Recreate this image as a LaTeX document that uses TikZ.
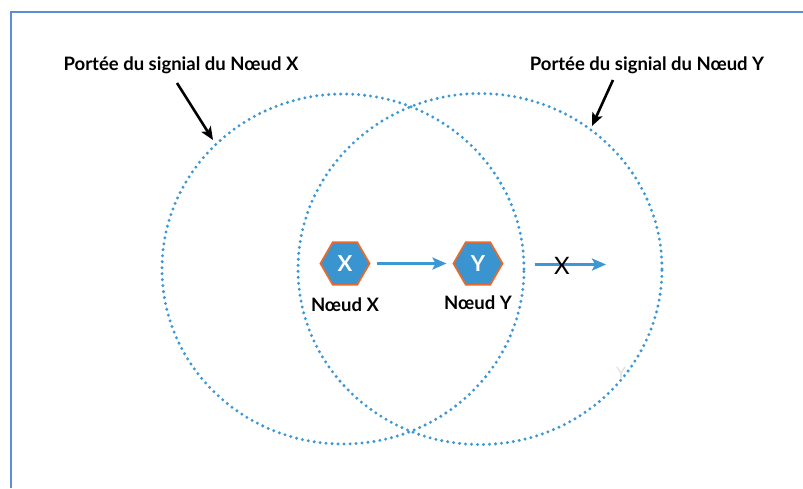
\documentclass[tikz,border=0pt]{standalone}
\usepackage{fontspec}
\setmainfont{Lato}
\usetikzlibrary{shapes.geometric,arrows.meta}
\definecolor{rangeblue}{HTML}{3D97D3}
\definecolor{hexblue}{HTML}{3A94D0}
\definecolor{hexedge}{HTML}{E86A2C}
\definecolor{frameblue}{HTML}{5B8ED4}
\tikzset{
  sigrange/.style={rangeblue, line width=3.3pt, line cap=round, dash pattern=on 0pt off 6pt},
  hexnode/.style={regular polygon, regular polygon sides=6, minimum size=49pt, inner sep=0pt,
    fill=hexblue, draw=hexedge, line width=1.8pt, text=white, font=\fontseries{b}\selectfont\fontsize{22}{22}\selectfont},
  nodelabel/.style={font=\bfseries\fontsize{18.5}{19}\selectfont, text=black},
  rangelabel/.style={font=\bfseries\fontsize{18.5}{19}\selectfont, text=black},
  sigarrow/.style={rangeblue, line width=3pt, -{Stealth[length=14pt,width=12pt,inset=3pt]}},
  ptrarrow/.style={black, line width=2.6pt, -{Stealth[length=13pt,width=11pt,inset=3pt]}}
}
\begin{document}
\begin{tikzpicture}[x=1pt,y=-1pt]
  \useasboundingbox (0,0) rectangle (803,488);
  % frame lines
  \draw[frameblue, line width=1.6pt] (11,12) -- (803,12);
  \draw[frameblue, line width=2.2pt] (11,11.2) -- (11,488);

  % signal ranges
  \draw[sigrange] (343,269) ellipse [x radius=181pt, y radius=175pt];
  \draw[sigrange] (480,269) ellipse [x radius=182pt, y radius=175.5pt];

  % nodes
  \node[hexnode] (nx) at (345,263.5) {X};
  \node[hexnode] (ny) at (478,263.5) {Y};
  \node[nodelabel] (lx) at (345,305) {Nœud X};
  \node[nodelabel] (ly) at (478,303) {Nœud Y};

  % transmissions
  \coordinate (out) at (606,264.5);
  \draw[sigarrow, shorten <=6pt, shorten >=6pt] (nx.east) -- (ny.west);
  \draw[sigarrow, shorten <=31pt] (ny.east |- out) -- (out);
  \node[font=\fontseries{l}\selectfont\fontsize{24}{24}\selectfont, text=black, inner sep=0pt] (block) at (562,266) {X};

  % range labels with pointers
  \node[rangelabel] (tx) at (181,65) {Portée du signial du Nœud X};
  \node[rangelabel] (ty) at (647,65) {Portée du signial du Nœud Y};
  \coordinate (px) at (213,140);
  \coordinate (py) at (592,126);
  \draw[ptrarrow] (177,83) -- (px);
  \draw[ptrarrow] (613,80) -- (py);

  % faint mark
  \node[text=black!12, font=\fontsize{16}{16}\selectfont] (ghost) at (621,373) {Y};
\end{tikzpicture}
\end{document}
